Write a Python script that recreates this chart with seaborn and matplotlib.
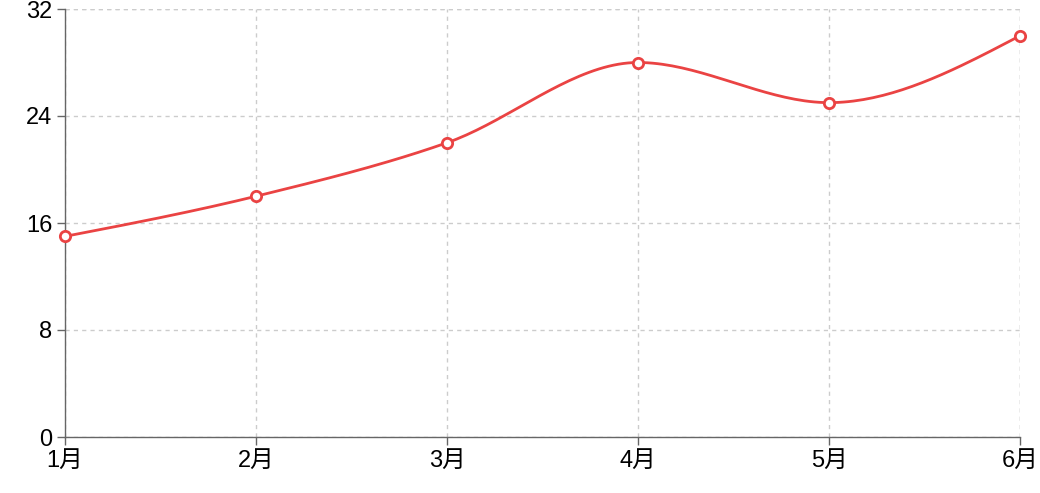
import numpy as np
import pandas as pd
import matplotlib
matplotlib.use("Agg")
import matplotlib.pyplot as plt
import seaborn as sns

# ------------------------------
# Data
# ------------------------------
months = ["1月", "2月", "3月", "4月", "5月", "6月"]
values = [15, 18, 22, 28, 25, 30]
y_ticks = [0, 8, 16, 24, 32]

RED = "#ea4343"


def monotone_x(x, y, n=40):
    # d3 curveMonotoneX style smoothing between points
    x = np.asarray(x, float)
    y = np.asarray(y, float)
    h = np.diff(x)
    s = np.diff(y) / h
    t = np.zeros(len(x))
    for i in range(1, len(x) - 1):
        if s[i - 1] * s[i] <= 0:
            t[i] = 0
        else:
            p = (s[i - 1] * h[i] + s[i] * h[i - 1]) / (h[i - 1] + h[i])
            t[i] = (np.sign(s[i - 1]) + np.sign(s[i])) * min(abs(s[i - 1]), abs(s[i]), 0.5 * abs(p))
    t[0] = (3 * s[0] - t[1]) / 2 if len(x) > 2 else s[0]
    t[-1] = (3 * s[-1] - t[-2]) / 2 if len(x) > 2 else s[-1]
    xs, ys = [], []
    for i in range(len(x) - 1):
        u = np.linspace(0, 1, n)
        dx = h[i] / 3
        p0, p1 = y[i], y[i] + dx * t[i]
        p2, p3 = y[i + 1] - dx * t[i + 1], y[i + 1]
        bx = (1 - u) ** 3 * x[i] + 3 * (1 - u) ** 2 * u * (x[i] + dx) + 3 * (1 - u) * u ** 2 * (x[i + 1] - dx) + u ** 3 * x[i + 1]
        by = (1 - u) ** 3 * p0 + 3 * (1 - u) ** 2 * u * p1 + 3 * (1 - u) * u ** 2 * p2 + u ** 3 * p3
        xs.extend(bx)
        ys.extend(by)
    return np.array(xs), np.array(ys)


sns.set_theme(style="white")
plt.rcParams["font.family"] = ["Liberation Sans", "Noto Sans CJK SC", "DejaVu Sans"]

df = pd.DataFrame({"pos": np.arange(len(months)), "value": values})
cx, cy = monotone_x(df["pos"], df["value"])
curve = pd.DataFrame({"pos": cx, "value": cy})

fig = plt.figure(figsize=(10.4, 4.93), dpi=100)
ax = fig.add_axes([65 / 1040, 56 / 493, 955 / 1040, 428 / 493])

sns.lineplot(data=curve, x="pos", y="value", color=RED, linewidth=2.0, ax=ax, zorder=3)
sns.scatterplot(data=df, x="pos", y="value", s=55, color="white", edgecolor=RED,
                linewidth=2.0, ax=ax, zorder=4, clip_on=False)

ax.set_xlim(0, len(months) - 1)
ax.set_ylim(0, 32)
ax.set_xticks(df["pos"])
ax.set_xticklabels(months)
ax.set_yticks(y_ticks)
ax.set_xlabel("")
ax.set_ylabel("")

ax.grid(True, color="#cccccc", linestyle=(0, (3, 3)), linewidth=1)
ax.set_axisbelow(True)
for side in ["top", "right"]:
    ax.spines[side].set_visible(False)
for side in ["left", "bottom"]:
    ax.spines[side].set_color("#666666")
    ax.spines[side].set_linewidth(1)
# top and right dashed border like the grid
ax.axhline(32, color="#cccccc", linestyle=(0, (3, 3)), linewidth=1, zorder=0)
ax.axvline(len(months) - 1, color="#cccccc", linestyle=(0, (3, 3)), linewidth=1, zorder=0)

ax.tick_params(axis="both", which="both", length=6, width=1, color="#666666",
               labelsize=17, labelcolor="#000000", pad=3, bottom=True, left=True)

fig.savefig("out.png", dpi=100, facecolor="white")
